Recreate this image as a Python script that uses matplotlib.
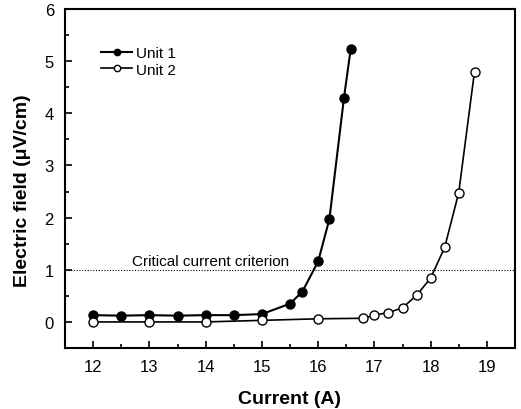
import matplotlib
matplotlib.use("Agg")
from matplotlib import pyplot as plt
from matplotlib.ticker import MultipleLocator

# datos
corriente_1 = [12.0, 12.5, 13.0, 13.5, 14.0, 14.5, 15.0, 15.5, 15.72, 16.0, 16.2, 16.46, 16.58]
campo_1 = [0.13, 0.12, 0.13, 0.12, 0.13, 0.13, 0.15, 0.35, 0.58, 1.16, 1.97, 4.30, 5.24]

corriente_2 = [12.0, 13.0, 14.0, 15.0, 16.0, 16.8, 17.0, 17.25, 17.5, 17.75, 18.0, 18.25, 18.5, 18.78]
campo_2 = [0.0, 0.0, 0.0, 0.03, 0.06, 0.07, 0.13, 0.18, 0.27, 0.51, 0.84, 1.43, 2.48, 4.80]

criterio = 1.0

plt.rcParams['font.family'] = ['Liberation Sans', 'DejaVu Sans']

fig = plt.figure(figsize=(5.21, 4.10), dpi=100)
ax = fig.add_axes([65 / 521, 1 - 349 / 410, 450 / 521, 339 / 410])

ax.plot(corriente_1, campo_1, '-', color='black', lw=1.5, marker='o', ms=6.5,
        mfc='black', mec='black', label='Unit 1')
ax.plot(corriente_2, campo_2, '-', color='black', lw=1.2, marker='o', ms=6.5,
        mfc='white', mec='black', mew=1.0, label='Unit 2')

ax.axhline(criterio, color='black', lw=0.8, ls=(0, (1, 1.5)))
ax.text(12.7, criterio + 0.1, 'Critical current criterion', fontsize=11)

ax.set_xlim(11.5, 19.5)
ax.set_ylim(-0.5, 6)
ax.xaxis.set_major_locator(MultipleLocator(1))
ax.xaxis.set_minor_locator(MultipleLocator(0.5))
ax.yaxis.set_major_locator(MultipleLocator(1))
ax.yaxis.set_minor_locator(MultipleLocator(0.5))
ax.tick_params(which='both', direction='in', top=False, right=False, labelsize=12, width=1.2)
ax.tick_params(which='major', length=5, pad=8)
ax.tick_params(which='minor', length=3)
for s in ax.spines.values():
    s.set_linewidth(1.5)

ax.set_xlabel('Current (A)', fontsize=14, fontweight='bold')
ax.set_ylabel('Electric field (\u03bcV/cm)', fontsize=14, fontweight='bold')
ax.xaxis.set_label_coords(0.5, -0.125)
ax.yaxis.set_label_coords(-0.075, 0.466)

ax.legend(loc='upper left', bbox_to_anchor=(0.05, 0.93), frameon=False, fontsize=11,
          handlelength=2.0, handletextpad=0.3, labelspacing=0.15, markerscale=0.7)

plt.savefig('out.png', dpi=100)
